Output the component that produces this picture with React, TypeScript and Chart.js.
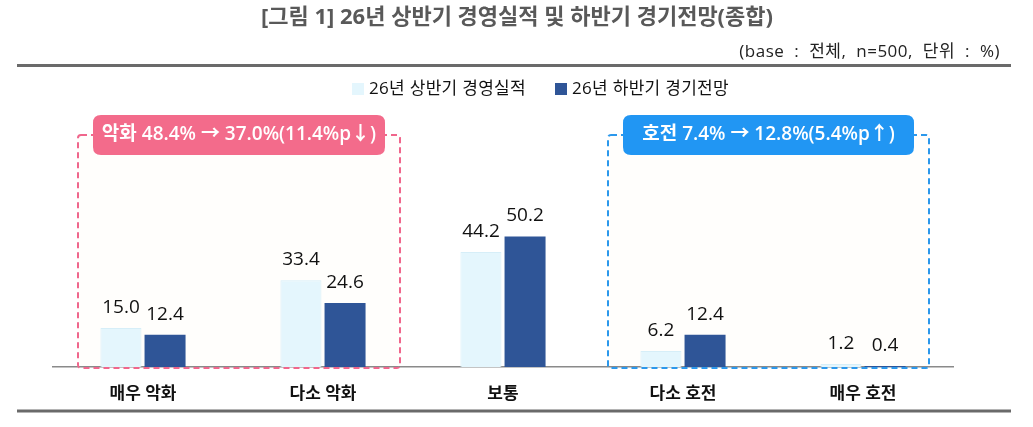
import React, { useEffect, useRef } from 'react';
import { Chart, registerables } from 'chart.js';

Chart.register(...registerables);

const FONT = '"Open Sans", "Noto Sans CJK KR", sans-serif';

const categories = ['매우 악화', '다소 악화', '보통', '다소 호전', '매우 호전'];
const seriesLabels = ['26년 상반기 경영실적', '26년 하반기 경기전망'];
const firstHalf = [15.0, 33.4, 44.2, 6.2, 1.2];
const secondHalf = [12.4, 24.6, 50.2, 12.4, 0.4];
const seriesColors = ['#E4F6FD', '#2F5597'];

const titleText = '[그림 1] 26년 상반기 경영실적 및 하반기 경기전망(종합)';
const baseText = '(base : 전체, n=500, 단위 : %)';
const worseBadge = '악화 48.4% → 37.0%(11.4%p↓)';
const betterBadge = '호전 7.4% → 12.8%(5.4%p↑)';

function roundRect(ctx: CanvasRenderingContext2D, x: number, y: number, w: number, h: number, r: number) {
  ctx.beginPath();
  ctx.moveTo(x + r, y);
  ctx.lineTo(x + w - r, y);
  ctx.quadraticCurveTo(x + w, y, x + w, y + r);
  ctx.lineTo(x + w, y + h - r);
  ctx.quadraticCurveTo(x + w, y + h, x + w - r, y + h);
  ctx.lineTo(x + r, y + h);
  ctx.quadraticCurveTo(x, y + h, x, y + h - r);
  ctx.lineTo(x, y + r);
  ctx.quadraticCurveTo(x, y, x + r, y);
  ctx.closePath();
}

function boxes(chart: any) {
  const xs = chart.scales.x;
  const top = 135;
  const bottom = 368;
  return [
    { left: xs.getPixelForValue(0) - 65, right: xs.getPixelForValue(1) + 77, top, bottom, stroke: '#F0668C', fill: '#F36B8B', text: worseBadge },
    { left: xs.getPixelForValue(3) - 75, right: xs.getPixelForValue(4) + 66, top, bottom, stroke: '#2B98EC', fill: '#2196F3', text: betterBadge },
  ];
}

const decoPlugin = {
  id: 'deco',
  beforeDraw(chart: any) {
    const ctx: any = chart.ctx;
    ctx.save();
    ctx.fillStyle = '#ffffff';
    ctx.fillRect(0, 0, chart.width, chart.height);

    // title
    ctx.fillStyle = '#595959';
    ctx.font = `bold 22px ${FONT}`;
    ctx.textAlign = 'center';
    ctx.textBaseline = 'middle';
    ctx.fillText(titleText, 517, 18);

    // base text
    ctx.fillStyle = '#222222';
    ctx.font = `17px ${FONT}`;
    ctx.letterSpacing = '0.5px';
    ctx.wordSpacing = '5px';
    ctx.textAlign = 'right';
    ctx.fillText(baseText, 1000, 52);
    ctx.letterSpacing = '0px';
    ctx.wordSpacing = '0px';

    // rules
    ctx.strokeStyle = '#6a6a6a';
    ctx.lineWidth = 3;
    ctx.beginPath();
    ctx.moveTo(17, 65.5);
    ctx.lineTo(1011, 65.5);
    ctx.moveTo(17, 411);
    ctx.lineTo(1011, 411);
    ctx.stroke();

    // legend
    const ds = chart.data.datasets;
    const legendX = [352, 555];
    ctx.font = `17px ${FONT}`;
    ctx.letterSpacing = '0.3px';
    ctx.textAlign = 'left';
    ctx.textBaseline = 'middle';
    ds.forEach((d: any, i: number) => {
      ctx.fillStyle = d.backgroundColor;
      ctx.fillRect(legendX[i], 83, 12, 12);
      ctx.fillStyle = '#111111';
      ctx.fillText(d.label, legendX[i] + 17, 89);
    });
    ctx.letterSpacing = '0px';

    // box fills
    boxes(chart).forEach((b) => {
      ctx.fillStyle = '#FFFEFC';
      ctx.fillRect(b.left, b.top, b.right - b.left, b.bottom - b.top);
    });
    ctx.restore();
  },
  afterDatasetsDraw(chart: any) {
    const ctx: CanvasRenderingContext2D = chart.ctx;
    ctx.save();
    // dashed boxes and badges
    boxes(chart).forEach((b) => {
      ctx.setLineDash([6, 4]);
      ctx.lineWidth = 2;
      ctx.strokeStyle = b.stroke;
      roundRect(ctx, b.left, b.top, b.right - b.left, b.bottom - b.top, 3);
      ctx.stroke();
      ctx.setLineDash([]);
      const bl = b.left + 15;
      const br = b.right - 15;
      roundRect(ctx, bl, 115, br - bl, 40, 8);
      ctx.fillStyle = b.fill;
      ctx.fill();
      ctx.fillStyle = '#ffffff';
      ctx.font = `600 19px ${FONT}`;
      ctx.textAlign = 'center';
      ctx.textBaseline = 'middle';
      ctx.fillText(b.text, (bl + br) / 2, 135);
    });

    // data labels
    ctx.font = `19px ${FONT}`;
    ctx.fillStyle = '#111111';
    ctx.textAlign = 'center';
    ctx.textBaseline = 'alphabetic';
    chart.data.datasets.forEach((d: any, di: number) => {
      const meta = chart.getDatasetMeta(di);
      meta.data.forEach((el: any, i: number) => {
        ctx.fillText(Number(d.data[i]).toFixed(1), el.x, el.y - 15);
      });
    });
    ctx.restore();
  },
};

export default function App() {
  const ref = useRef<HTMLCanvasElement>(null);
  useEffect(() => {
    document.body.style.margin = '0';
    const chart = new Chart(ref.current as HTMLCanvasElement, {
      type: 'bar',
      data: {
        labels: categories,
        datasets: [
          { label: seriesLabels[0], data: firstHalf, backgroundColor: seriesColors[0], borderColor: '#D6EEF8', borderWidth: 1, categoryPercentage: 0.49, barPercentage: 0.93 },
          { label: seriesLabels[1], data: secondHalf, backgroundColor: seriesColors[1], borderColor: '#2F5597', borderWidth: 0, categoryPercentage: 0.49, barPercentage: 0.93 },
        ],
      },
      options: {
        responsive: false,
        animation: false,
        layout: { padding: { left: 53, right: 80, top: 107, bottom: 0 } },
        plugins: {
          legend: { display: false },
          title: { display: false },
          tooltip: { enabled: false },
        },
        scales: {
          x: {
            grid: { display: false, drawTicks: false },
            border: { display: true, color: '#8a8a8a', width: 1.5 },
            ticks: { font: { family: FONT, size: 17, weight: 'bold' }, color: '#111111', padding: 17 },
            afterFit: (s: any) => { s.height = 60; },
          },
          y: { display: false, min: 0, max: 100 },
        },
      } as any,
      plugins: [decoPlugin],
    });
    return () => chart.destroy();
  }, []);
  return (
    <div style={{ position: 'fixed', left: 0, top: 0, width: 1033, height: 427, background: '#fff' }}>
      <canvas ref={ref} width={1033} height={427} style={{ display: 'block' }} />
    </div>
  );
}
